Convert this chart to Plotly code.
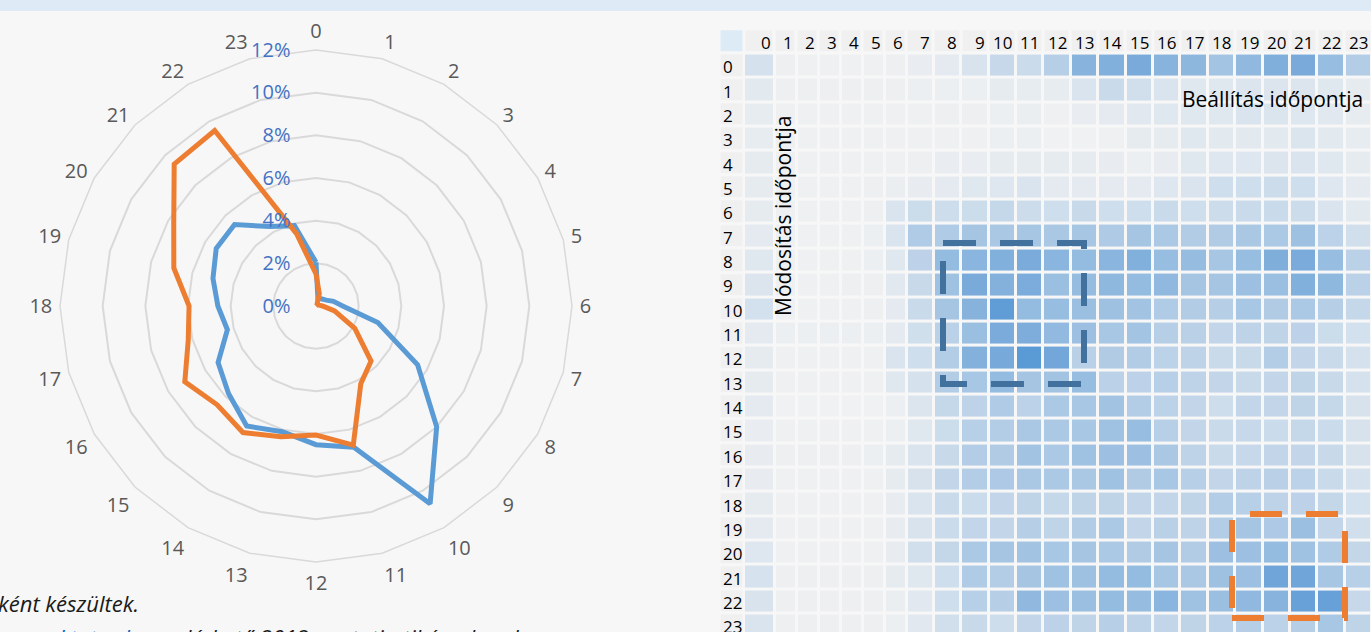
import plotly.graph_objects as go

# ---------------- data ----------------
hours = [str(h) for h in range(24)]

# radar series (percent of events per hour)
blue_pct = [2.05, 0.35, 0.4, 0.45, 0.55, 0.85, 1.25, 3.0, 5.5, 8.0, 10.7, 6.85,
            6.5, 6.1, 6.5, 5.8, 5.3, 4.3, 4.6, 5.0, 5.4, 5.4, 4.3, 3.9]
orange_pct = [1.5, 0.6, 0.1, 0.05, 0.1, 0.15, 0.3, 0.9, 2.1, 3.65, 4.2, 6.75,
              6.05, 6.35, 6.85, 6.55, 7.1, 6.2, 5.95, 6.9, 7.7, 9.4, 9.5, 3.5]
radial_ticks = [0, 2, 4, 6, 8, 10, 12]
radial_labels = [f"{v}%" for v in radial_ticks]

# heatmap: rows = "Módosítás időpontja" hour, cols = "Beállítás időpontja" hour (relative intensity 0-10)
heat_rows = hours
heat_cols = hours
heat_z = [
    [2.5, 0.4, 0.3, 0.3, 0.3, 0.3, 0.4, 0.7, 1.2, 2.2, 3.7, 3.4, 4.9, 7.8, 8.1, 8.7, 7.8, 7.4, 6.1, 7.2, 8.2, 8.7, 6.8, 5.0],
    [1.3, 0.4, 0.4, 0.4, 0.4, 0.4, 0.4, 0.5, 0.5, 0.5, 1.0, 0.9, 0.9, 2.0, 3.5, 2.8, 2.0, 1.6, 1.6, 1.8, 1.8, 1.8, 1.5, 1.0],
    [0.9, 0.3, 0.3, 0.3, 0.3, 0.3, 0.3, 0.3, 0.4, 0.4, 0.5, 0.6, 0.3, 0.7, 1.1, 1.4, 1.6, 1.6, 1.5, 2.0, 1.9, 1.7, 1.4, 0.9],
    [0.9, 0.3, 0.3, 0.3, 0.3, 0.3, 0.3, 0.3, 0.3, 0.3, 0.5, 0.5, 0.2, 0.2, 0.3, 1.0, 1.0, 1.5, 1.3, 1.3, 1.3, 1.9, 1.3, 0.9],
    [1.0, 0.3, 0.3, 0.3, 0.3, 0.3, 0.3, 0.4, 0.7, 0.7, 1.0, 1.0, 1.0, 1.0, 0.8, 0.5, 0.8, 1.6, 1.7, 1.7, 1.8, 2.0, 1.6, 1.0],
    [1.0, 0.3, 0.3, 0.3, 0.3, 0.4, 0.6, 0.8, 1.1, 1.5, 1.7, 2.0, 1.2, 1.1, 1.2, 1.2, 1.7, 2.0, 3.0, 3.0, 3.2, 3.0, 1.7, 1.2],
    [1.0, 0.3, 0.3, 0.3, 0.3, 0.4, 2.0, 3.3, 3.1, 3.3, 3.8, 3.2, 3.0, 3.6, 3.0, 3.0, 3.5, 3.0, 3.2, 3.5, 3.5, 3.2, 2.0, 1.3],
    [1.2, 0.3, 0.3, 0.3, 0.3, 0.5, 2.0, 5.3, 5.3, 6.0, 5.7, 5.9, 5.7, 5.9, 5.4, 6.0, 5.6, 5.1, 5.2, 5.7, 5.6, 6.4, 4.5, 2.8],
    [1.5, 0.3, 0.3, 0.3, 0.3, 0.5, 1.5, 4.4, 7.0, 7.6, 8.1, 8.6, 7.6, 7.0, 7.6, 8.1, 6.8, 6.9, 5.9, 6.8, 8.3, 8.6, 6.8, 4.6],
    [1.8, 0.3, 0.3, 0.3, 0.4, 0.4, 1.4, 3.6, 6.3, 8.7, 8.0, 8.5, 6.6, 6.9, 7.3, 7.0, 7.2, 6.0, 6.0, 6.5, 6.6, 8.1, 7.3, 4.6],
    [2.6, 0.3, 0.3, 0.3, 0.3, 0.4, 1.2, 3.5, 6.0, 7.9, 9.8, 7.0, 6.8, 6.6, 6.4, 6.2, 5.3, 5.1, 4.9, 5.8, 5.2, 5.6, 4.9, 3.8],
    [1.2, 0.5, 0.5, 0.5, 0.5, 0.5, 1.2, 2.9, 4.6, 6.6, 8.6, 8.4, 7.1, 6.5, 5.8, 6.1, 4.9, 4.7, 4.0, 4.3, 4.2, 4.4, 3.3, 2.6],
    [1.0, 0.3, 0.3, 0.3, 0.3, 0.3, 2.0, 3.0, 5.0, 8.0, 8.8, 10.0, 9.0, 4.7, 5.2, 5.1, 4.5, 4.3, 3.5, 3.6, 5.0, 4.0, 3.5, 2.5],
    [1.0, 0.3, 0.3, 0.3, 0.3, 0.3, 1.5, 2.5, 5.0, 5.8, 7.0, 6.0, 6.2, 6.8, 4.6, 4.4, 4.8, 4.3, 4.1, 3.6, 4.0, 4.2, 3.6, 2.5],
    [1.2, 0.2, 0.2, 0.2, 0.2, 0.2, 0.5, 1.8, 3.8, 4.3, 5.3, 4.5, 5.6, 5.8, 6.2, 5.0, 4.5, 4.1, 3.1, 4.0, 4.0, 4.2, 3.8, 2.3],
    [0.7, 0.3, 0.3, 0.3, 0.3, 0.3, 0.5, 1.5, 3.3, 4.8, 5.0, 5.7, 5.6, 5.8, 6.3, 6.8, 4.8, 4.1, 3.5, 3.7, 3.4, 3.8, 3.4, 2.3],
    [0.8, 0.4, 0.4, 0.4, 0.4, 0.5, 1.0, 2.0, 3.6, 5.0, 5.2, 6.2, 5.6, 6.3, 6.5, 6.5, 5.7, 4.3, 3.5, 3.7, 4.0, 4.0, 3.6, 2.3],
    [0.8, 0.3, 0.3, 0.3, 0.3, 0.3, 1.0, 2.3, 4.0, 5.0, 5.5, 5.7, 5.6, 5.7, 6.3, 5.2, 5.8, 4.8, 4.1, 4.3, 4.7, 4.5, 3.5, 2.5],
    [1.0, 0.3, 0.3, 0.3, 0.3, 0.3, 0.8, 2.0, 3.5, 3.4, 4.1, 4.2, 3.8, 4.2, 4.2, 4.0, 4.1, 4.2, 5.0, 4.8, 4.3, 4.4, 3.9, 2.6],
    [1.2, 0.3, 0.3, 0.3, 0.3, 0.3, 0.8, 2.2, 3.4, 4.1, 4.0, 4.9, 4.2, 5.1, 5.6, 4.1, 4.7, 4.3, 5.0, 6.0, 5.5, 6.6, 4.1, 2.8],
    [1.7, 0.3, 0.3, 0.3, 0.3, 0.3, 0.8, 2.8, 3.9, 5.6, 6.0, 6.2, 5.8, 6.0, 5.6, 5.2, 6.0, 5.1, 6.5, 6.5, 7.0, 6.3, 5.3, 3.9],
    [2.4, 0.4, 0.4, 0.4, 0.4, 0.4, 1.0, 1.6, 3.0, 5.3, 5.0, 6.0, 6.3, 6.4, 7.0, 7.0, 5.9, 5.7, 6.4, 6.5, 9.2, 9.2, 5.9, 4.8],
    [2.2, 0.4, 0.4, 0.4, 0.4, 0.4, 0.6, 1.4, 3.0, 4.8, 4.9, 7.2, 6.5, 6.6, 7.0, 6.9, 7.6, 6.3, 6.6, 7.2, 7.8, 9.5, 9.5, 3.7],
    [2.0, 0.4, 0.4, 0.4, 0.4, 0.4, 0.5, 1.4, 2.8, 3.6, 3.1, 4.0, 4.4, 4.2, 4.8, 4.3, 4.1, 4.2, 4.5, 4.9, 4.5, 4.9, 5.8, 4.2],
]

# ---------------- layout constants (pixels) ----------------
W, H = 1371, 632
BG = "#f7f7f7"
FONT = "Open Sans"
BLUE, ORANGE = "#5b9bd5", "#ed7d31"

# radar placement
CX, CY, R = 316, 306, 256
# grid placement
GRID_X0 = 719.5
LABEL_COL_W = 24.5
COL_W = [30.5] + [22.0] * 6 + [27.3] + [27.4] * 16
GRID_Y0 = 29.2
ROW_H = 24.35

col_edges = [GRID_X0 + LABEL_COL_W]
for w in COL_W:
    col_edges.append(col_edges[-1] + w)
row_edges = [GRID_Y0 + ROW_H * (i + 1) for i in range(len(heat_rows) + 1)]

fig = go.Figure()

# ---- radar ----
for vals, col, name in [(blue_pct, BLUE, "Beállítás"), (orange_pct, ORANGE, "Módosítás")]:
    fig.add_trace(go.Scatterpolar(
        r=vals + vals[:1], theta=hours + hours[:1], mode="lines",
        line=dict(color=col, width=5), name=name, showlegend=False,
        hoverinfo="skip"))

# ---- grid frame (header row / label column) ----
frame_x = [GRID_X0] + col_edges
frame_y = [GRID_Y0] + row_edges
frame_z = []
for i in range(len(heat_rows) + 1):
    row = []
    for j in range(len(heat_cols) + 1):
        if i == 0 and j == 0:
            row.append(1)
        elif i == 0 or j == 0:
            row.append(0)
        else:
            row.append(None)
    frame_z.append(row)
fig.add_trace(go.Heatmap(
    x=frame_x, y=frame_y, z=frame_z, zmin=0, zmax=1,
    colorscale=[[0, "#f0f0f0"], [1, "#ddebf7"]], showscale=False,
    xgap=3, ygap=3, hoverinfo="skip", xaxis="x", yaxis="y"))

# ---- heatmap ----
fig.add_trace(go.Heatmap(
    x=col_edges, y=row_edges, z=heat_z, zmin=0, zmax=10,
    colorscale=[[0.0, "#f1f2f2"], [0.1, "#e6ebf0"], [0.2, "#dae4ee"],
                [0.3, "#cfdeec"], [0.4, "#c3d6e9"], [0.5, "#b4cde6"],
                [0.6, "#a5c5e3"], [0.7, "#94bbe0"], [0.8, "#84b1dc"],
                [0.9, "#74a7d9"], [1.0, "#5b9bd5"]],
    showscale=False, xgap=3, ygap=3, hoverinfo="skip",
    xaxis="x", yaxis="y"))

annotations = []
# column labels (right aligned in header cells)
for j, lab in enumerate(heat_cols):
    annotations.append(dict(
        x=col_edges[j + 1] - 2.0, y=GRID_Y0 + ROW_H / 2 + 1.5, xref="x", yref="y",
        text=lab, showarrow=False, xanchor="right", yanchor="middle",
        font=dict(family=FONT, size=17, color="#000000")))
# row labels
for i, lab in enumerate(heat_rows):
    annotations.append(dict(
        x=GRID_X0 + 1.5, y=row_edges[i] + ROW_H / 2 + 1, xref="x", yref="y",
        text=lab, showarrow=False, xanchor="left", yanchor="middle",
        font=dict(family=FONT, size=17, color="#000000")))

annotations.append(dict(
    x=1272, y=99, xref="x", yref="y", text="Beállítás időpontja",
    showarrow=False, xanchor="center", yanchor="middle",
    font=dict(family=FONT, size=21, color="#000000")))
annotations.append(dict(
    x=783, y=216, xref="x", yref="y", text="Módosítás időpontja", textangle=-90,
    showarrow=False, xanchor="center", yanchor="middle",
    font=dict(family=FONT, size=21, color="#000000")))

# footnote texts (cropped in the original)
annotations.append(dict(
    x=-4 / W, y=1 - 603 / H, xref="paper", yref="paper", text="<i>ként készültek.</i>",
    showarrow=False, xanchor="left", yanchor="middle",
    font=dict(family=FONT, size=22, color="#1a1a1a")))
annotations.append(dict(
    x=-8 / W, y=1 - 637 / H, xref="paper", yref="paper",
    text="<i><span style='color:#0563c1'><u>www.oktatas.hu</u></span>-n elérhető 2012-es statisztikán alapul</i>",
    showarrow=False, xanchor="left", yanchor="middle",
    font=dict(family=FONT, size=22, color="#1a1a1a")))

shapes = [
    dict(type="rect", xref="paper", yref="paper", x0=0, x1=1, y0=1 - 11 / H, y1=1,
         fillcolor="#deeaf6", line=dict(width=0), layer="below"),
    dict(type="path", xref="x", yref="y",
         path="M 943,243 L 1084,243 L 1084,384 L 943,384 Z",
         line=dict(color="#41719c", width=6, dash="33px,24px")),
    dict(type="path", xref="x", yref="y",
         path="M 1232,608 L 1232,514 L 1345,514 L 1345,618 L 1232,618 Z",
         line=dict(color=ORANGE, width=6, dash="32px,24px")),
]

fig.update_layout(
    width=W, height=H,
    margin=dict(l=0, r=0, t=0, b=0),
    paper_bgcolor=BG, plot_bgcolor="rgba(0,0,0,0)",
    showlegend=False,
    xaxis=dict(domain=[0, 1], range=[0, W], visible=False, fixedrange=True),
    yaxis=dict(domain=[0, 1], range=[H, 0], visible=False, fixedrange=True),
    polar=dict(
        domain=dict(x=[(CX - R) / W, (CX + R) / W], y=[(H - CY - R) / H, (H - CY + R) / H]),
        bgcolor="rgba(0,0,0,0)",
        gridshape="linear",
        angularaxis=dict(
            type="category", categoryarray=hours, rotation=90, direction="clockwise",
            showgrid=False, showline=True, linecolor="#d9d9d9", linewidth=1.5,
            ticks="outside", ticklen=3, tickcolor="rgba(0,0,0,0)",
            tickfont=dict(family=FONT, size=20, color="#595959")),
        radialaxis=dict(
            range=[0, 12], tickvals=radial_ticks, ticktext=radial_labels, angle=90, tickangle=90,
            side="counterclockwise", showline=False, gridcolor="#d9d9d9", gridwidth=1.5,
            ticks="outside", ticklen=18, tickcolor="rgba(0,0,0,0)",
            tickfont=dict(family=FONT, size=20, color="#4472c4")),
    ),
    annotations=annotations,
    shapes=shapes,
)

fig.write_html("out.html", post_script="document.body.style.margin='0px';",
               config={"displayModeBar": False})
